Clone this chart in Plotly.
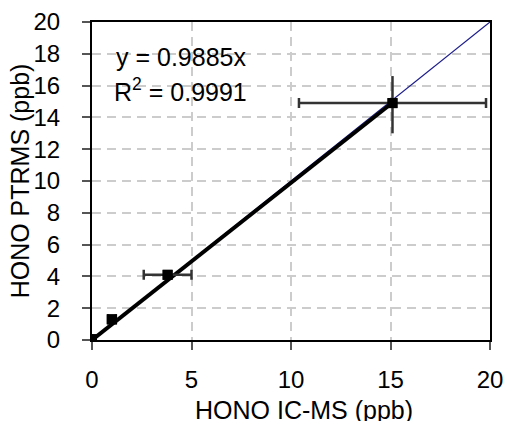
import plotly.graph_objects as go

# data
ic_ms = [0.0, 1.0, 3.8, 15.1]
ptrms = [0.05, 1.3, 4.1, 14.9]
x_err = [0.0, 0.2, 1.2, 4.7]
y_err_plus = [0.0, 0.0, 0.0, 1.7]
y_err_minus = [0.0, 0.0, 0.0, 1.9]
slope = 0.9885
fit_x = [0.0, 15.0]
one_to_one = [0.0, 20.0]
x_ticks = [0, 5, 10, 15, 20]
y_ticks = [0, 2, 4, 6, 8, 10, 12, 14, 16, 18, 20]

FONT = "Liberation Sans, Arial, sans-serif"
TICK_SIZE = 24
TEXT_SIZE = 25
fig = go.Figure()

# 1:1 line
fig.add_trace(go.Scatter(x=one_to_one, y=one_to_one, mode="lines",
                         line=dict(color="#1c1c8a", width=1.2), hoverinfo="skip"))
# fit line
fig.add_trace(go.Scatter(x=fit_x, y=[slope * v for v in fit_x], mode="lines",
                         line=dict(color="black", width=4), hoverinfo="skip"))
# x error bars (with caps)
fig.add_trace(go.Scatter(x=ic_ms, y=ptrms, mode="markers",
                         marker=dict(symbol="square", size=10, color="black"),
                         error_x=dict(type="data", array=x_err, color="#333333",
                                      thickness=2.5, width=5, visible=True)))
# y error bars (no caps)
fig.add_trace(go.Scatter(x=ic_ms, y=ptrms, mode="markers",
                         marker=dict(symbol="square", size=10, color="black"),
                         error_y=dict(type="data", symmetric=False, array=y_err_plus,
                                      arrayminus=y_err_minus, color="#333333",
                                      thickness=2.5, width=0, visible=True)))

fig.add_annotation(x=1.1, y=17.8, xref="x", yref="y", xanchor="left", yanchor="middle",
                   showarrow=False, text="y = 0.9885x",
                   font=dict(family=FONT, size=TEXT_SIZE, color="black"))
fig.add_annotation(x=1.0, y=15.75, xref="x", yref="y", xanchor="left", yanchor="middle",
                   showarrow=False, text="R<sup>2</sup> = 0.9991",
                   font=dict(family=FONT, size=TEXT_SIZE, color="black"))

# axis titles
fig.add_annotation(x=(304 - 92) / 398, y=-0.22, xref="paper", yref="paper", xanchor="center",
                   yanchor="middle", showarrow=False, text="HONO IC-MS (ppb)",
                   font=dict(family=FONT, size=TEXT_SIZE, color="black"))
fig.add_annotation(x=-0.18, y=0.5, xref="paper", yref="paper", xanchor="center",
                   yanchor="middle", showarrow=False, text="HONO PTRMS (ppb)", textangle=-90,
                   font=dict(family=FONT, size=TEXT_SIZE, color="black"))

axis_common = dict(showline=True, linecolor="black", linewidth=2, mirror=True,
                   ticks="outside", ticklen=8, tickcolor="#555555", tickwidth=1.5,
                   showgrid=True, gridcolor="#cccccc", griddash="9px,6px", gridwidth=1.5,
                   zeroline=False, automargin=False,
                   tickfont=dict(family=FONT, size=TICK_SIZE, color="black"))

fig.update_layout(
    width=505, height=421,
    margin=dict(l=92, r=15, t=22, b=81),
    paper_bgcolor="white", plot_bgcolor="white",
    showlegend=False,
    xaxis=dict(range=[0, 20], tickvals=x_ticks, ticklabelstandoff=9, **axis_common),
    yaxis=dict(range=[0, 20], tickvals=y_ticks, ticklabelstandoff=17, **axis_common),
)

fig.write_html("out.html", config={"displayModeBar": False},
               post_script="document.body.style.margin='0';document.body.style.overflow='hidden';")
